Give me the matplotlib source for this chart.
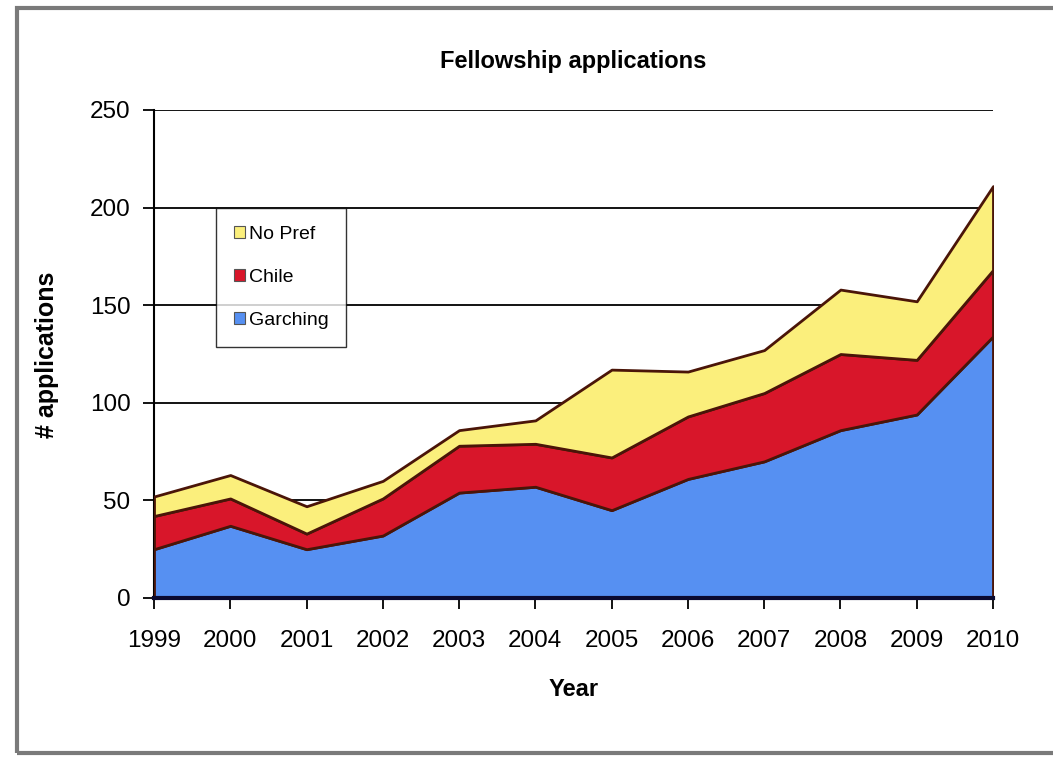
import numpy as np
import matplotlib
matplotlib.use("Agg")
import matplotlib.pyplot as plt
from matplotlib.patches import Rectangle, Patch

plt.rcParams['font.family'] = ['Liberation Sans', 'DejaVu Sans']

# data
years = [1999, 2000, 2001, 2002, 2003, 2004, 2005, 2006, 2007, 2008, 2009, 2010]
garching = [25, 37, 25, 32, 54, 57, 45, 61, 70, 86, 94, 134]
chile = [17, 14, 8, 19, 24, 22, 27, 32, 35, 39, 28, 34]
no_pref = [10, 12, 14, 9, 8, 12, 45, 23, 22, 33, 30, 43]

series_names = ['Garching', 'Chile', 'No Pref']
series_colors = ['#5690f2', '#d8162a', '#fbef7c']
edge_color = '#4a1508'

W, H = 1053, 769
fig = plt.figure(figsize=(W / 100, H / 100), dpi=100)
fig.patch.set_facecolor('white')

# outer picture frame
fig.patches.append(Rectangle((17 / W, 1 - 753 / H), 1.1, (753 - 8) / H,
                             transform=fig.transFigure, fill=False,
                             edgecolor='#7a7a7a', linewidth=3))

ax = fig.add_axes([154 / W, 1 - 598 / H, (993 - 154) / W, (598 - 110) / H])

x = np.array(years)
stack = np.vstack([garching, chile, no_pref])
ax.stackplot(x, stack, colors=series_colors, edgecolor=edge_color,
             linewidth=2, zorder=3)

ax.set_xlim(1999, 2010)
ax.set_ylim(0, 250)
ax.set_yticks(range(0, 251, 50))
ax.set_xticks(years)
ax.set_xticklabels([str(y) for y in years])

for v in range(50, 251, 50):
    ax.axhline(v, color='black', linewidth=1.3, zorder=1)

for s in ['top', 'right']:
    ax.spines[s].set_visible(False)
ax.spines['left'].set_linewidth(1.5)
ax.spines['bottom'].set_linewidth(3)
ax.spines['bottom'].set_color('#0a0a30')
ax.spines['bottom'].set_zorder(5)

ax.tick_params(axis='both', direction='out', length=8, width=1.3,
               labelsize=17.5, colors='black')
ax.tick_params(axis='y', pad=9)
ax.tick_params(axis='x', pad=15)

ax.set_title('Fellowship applications', fontsize=17, fontweight='bold', pad=30)
fig.text(47 / W, 1 - 355 / H, '# applications', rotation=90, fontsize=18,
         fontweight='bold', ha='center', va='center')
fig.text(574 / W, 1 - 690 / H, 'Year', fontsize=17, fontweight='bold',
         ha='center', va='center')

handles = [Patch(facecolor=c, edgecolor='#555555', linewidth=0.8)
           for c in series_colors]
leg = ax.legend(handles[::-1], series_names[::-1], loc='upper left',
                bbox_to_anchor=(0.074, 0.799), borderaxespad=0,
                fontsize=14, frameon=True, fancybox=False,
                handlelength=0.6, handleheight=0.6, handletextpad=0.2,
                labelspacing=1.35, borderpad=0.9)
leg.get_frame().set_edgecolor('black')
leg.get_frame().set_linewidth(1)
leg.set_zorder(6)

fig.savefig('out.png', dpi=100)
